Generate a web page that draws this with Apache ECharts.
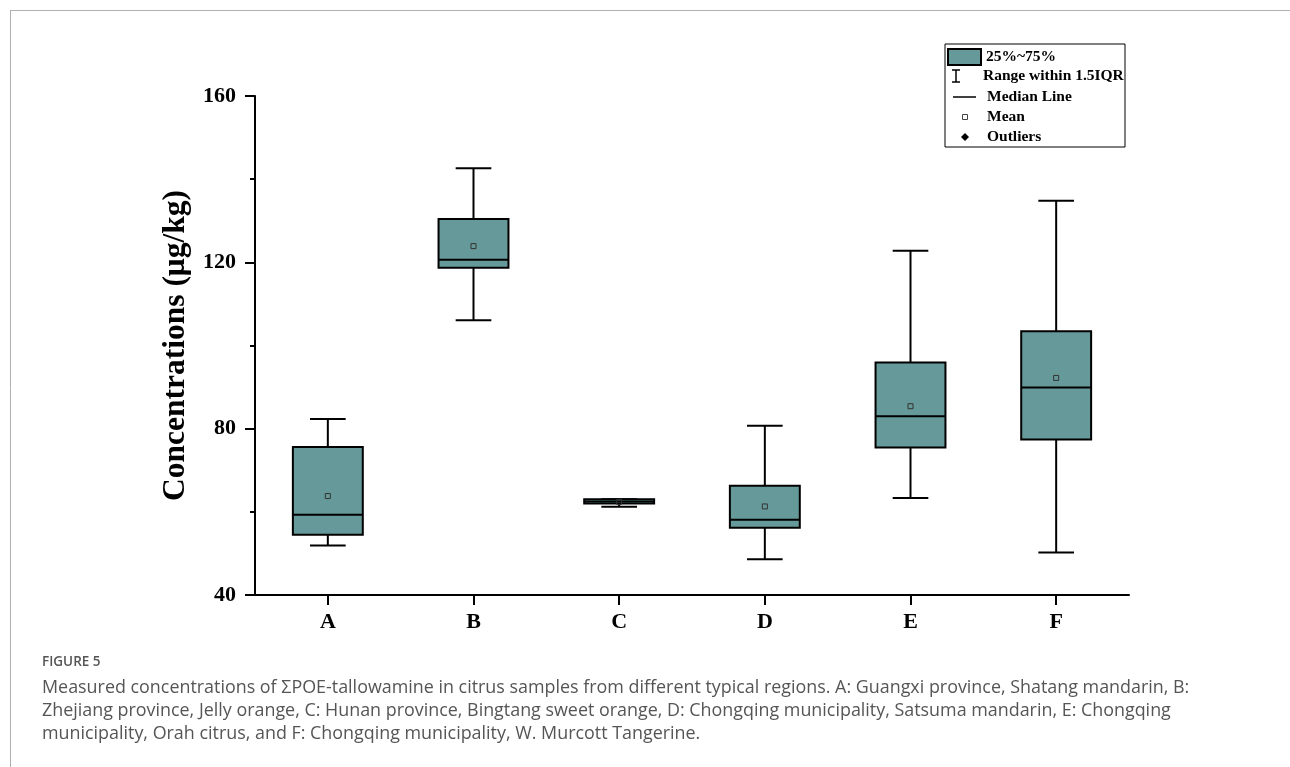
<!DOCTYPE html>
<html><head><meta charset="utf-8">
<script src="https://cdn.jsdelivr.net/npm/echarts@6/dist/echarts.min.js"></script>
<style>html,body{margin:0;padding:0;background:#fff;} #c{width:1290px;height:767px;}</style>
</head><body><div id="c"></div>
<script>
const categories = ['A','B','C','D','E','F'];
const whiskerLow  = [51.9, 106.1, 61.2, 48.6, 63.3, 50.2];
const q1          = [54.5, 118.7, 62.0, 56.2, 75.5, 77.4];
const median      = [59.3, 120.6, 62.5, 58.1, 83.0, 89.9];
const q3          = [75.6, 130.4, 63.0, 66.3, 95.9, 103.4];
const whiskerHigh = [82.3, 142.6, 63.0, 80.7, 122.8, 134.8];
const means       = [63.8, 123.9, 62.4, 61.3, 85.4, 92.2];
const yMin = 40, yMax = 160, yInterval = 40;
const legendLabels = ['25%~75%', 'Range within 1.5IQR', 'Median Line', 'Mean', 'Outliers'];
const captionTitle = 'FIGURE 5';
const captionLines = [
  'Measured concentrations of \u03A3POE-tallowamine in citrus samples from different typical regions. A: Guangxi province, Shatang mandarin, B:',
  'Zhejiang province, Jelly orange, C: Hunan province, Bingtang sweet orange, D: Chongqing municipality, Satsuma mandarin, E: Chongqing',
  'municipality, Orah citrus, and F: Chongqing municipality, W. Murcott Tangerine.'
];

const BOX = '#669999';
const SERIF = '"Liberation Serif","Times New Roman",serif';

const boxData = categories.map((c, i) => [i, whiskerLow[i], q1[i], median[i], q3[i], whiskerHigh[i], means[i]]);

function renderBox(params, api) {
  const i = api.value(0);
  const x = api.coord([i, api.value(3)])[0];
  const bw = api.size([1, 0])[0] * 0.48;
  const cw = bw * 0.51;
  const y = v => api.coord([i, v])[1];
  const yLo = y(api.value(1)), yQ1 = y(api.value(2)), yMed = y(api.value(3)),
        yQ3 = y(api.value(4)), yHi = y(api.value(5)), yMean = y(api.value(6));
  const ls = { stroke: '#000', lineWidth: 2 };
  return {
    type: 'group',
    children: [
      { type: 'line', shape: { x1: x, y1: yHi, x2: x, y2: yQ3 }, style: ls },
      { type: 'line', shape: { x1: x, y1: yQ1, x2: x, y2: yLo }, style: ls },
      { type: 'line', shape: { x1: x - cw / 2, y1: yHi, x2: x + cw / 2, y2: yHi }, style: ls },
      { type: 'line', shape: { x1: x - cw / 2, y1: yLo, x2: x + cw / 2, y2: yLo }, style: ls },
      { type: 'rect', shape: { x: x - bw / 2, y: yQ3, width: bw, height: yQ1 - yQ3 }, style: { fill: BOX, stroke: '#000', lineWidth: 2 } },
      { type: 'line', shape: { x1: x - bw / 2, y1: yMed, x2: x + bw / 2, y2: yMed }, style: ls },
      { type: 'rect', shape: { x: x - 2.5, y: yMean - 2.5, width: 5, height: 5 }, style: { fill: 'none', stroke: '#333', lineWidth: 1 } }
    ]
  };
}

// legend (decoration)
const LFONT = 'bold 15.5px ' + SERIF;
const legendGraphics = [
  { type: 'rect', shape: { x: 945, y: 44, width: 180, height: 103 }, style: { fill: '#fff', stroke: '#000', lineWidth: 1 } },
  { type: 'rect', shape: { x: 948, y: 49, width: 33, height: 16 }, style: { fill: BOX, stroke: '#000', lineWidth: 2 } },
  { type: 'text', x: 986, y: 57, style: { text: legendLabels[0], font: LFONT, fill: '#000', verticalAlign: 'middle' } },
  { type: 'line', shape: { x1: 956, y1: 70, x2: 956, y2: 82 }, style: { stroke: '#000', lineWidth: 1.5 } },
  { type: 'line', shape: { x1: 952, y1: 70, x2: 960, y2: 70 }, style: { stroke: '#000', lineWidth: 1.5 } },
  { type: 'line', shape: { x1: 952, y1: 82, x2: 960, y2: 82 }, style: { stroke: '#000', lineWidth: 1.5 } },
  { type: 'text', x: 983, y: 76, style: { text: legendLabels[1], font: LFONT, fill: '#000', verticalAlign: 'middle' } },
  { type: 'line', shape: { x1: 953, y1: 97, x2: 976, y2: 97 }, style: { stroke: '#000', lineWidth: 1.5 } },
  { type: 'text', x: 987, y: 97, style: { text: legendLabels[2], font: LFONT, fill: '#000', verticalAlign: 'middle' } },
  { type: 'rect', shape: { x: 962.5, y: 114.5, width: 5, height: 5 }, style: { fill: 'none', stroke: '#444', lineWidth: 1 } },
  { type: 'text', x: 987, y: 117, style: { text: legendLabels[3], font: LFONT, fill: '#000', verticalAlign: 'middle' } },
  { type: 'polygon', shape: { points: [[965, 133], [969, 137], [965, 141], [961, 137]] }, style: { fill: '#000' } },
  { type: 'text', x: 987, y: 137, style: { text: legendLabels[4], font: LFONT, fill: '#000', verticalAlign: 'middle' } }
];

const frameGraphics = [
  { type: 'line', shape: { x1: 10, y1: 10.5, x2: 1290, y2: 10.5 }, style: { stroke: '#b0b0b0', lineWidth: 1 } },
  { type: 'line', shape: { x1: 10.5, y1: 10, x2: 10.5, y2: 767 }, style: { stroke: '#b0b0b0', lineWidth: 1 } }
];

const captionGraphics = [
  { type: 'text', x: 42, y: 662, style: { text: captionTitle, font: '600 13.5px "Open Sans", sans-serif', fill: '#555', verticalAlign: 'middle' } }
].concat(captionLines.map((t, k) => ({
  type: 'text', x: 42, y: 688 + k * 23, style: { text: t, font: '17.9px "Open Sans", sans-serif', fill: '#555', verticalAlign: 'middle' }
})));

const chart = echarts.init(document.getElementById('c'), null, { renderer: 'canvas' });
chart.setOption({
  backgroundColor: '#fff',
  animation: false,
  grid: { left: 255, right: 161, top: 96, bottom: 172 },
  xAxis: {
    type: 'category',
    data: categories,
    boundaryGap: true,
    axisLine: { show: true, lineStyle: { color: '#000', width: 2 } },
    axisTick: { show: true, alignWithLabel: true, inside: false, length: 10, lineStyle: { color: '#000', width: 2 } },
    axisLabel: { color: '#000', fontFamily: SERIF, fontWeight: 'bold', fontSize: 22, margin: 16 },
    splitLine: { show: false }
  },
  yAxis: {
    type: 'value',
    min: yMin, max: yMax, interval: yInterval,
    name: 'Concentrations (\u03BCg/kg)',
    nameLocation: 'middle',
    nameGap: 58,
    nameTextStyle: { color: '#000', fontFamily: SERIF, fontWeight: 'bold', fontSize: 31.5 },
    axisLine: { show: true, lineStyle: { color: '#000', width: 2 } },
    axisTick: { show: true, inside: false, length: 10, lineStyle: { color: '#000', width: 2 } },
    minorTick: { show: true, splitNumber: 2, length: 5, lineStyle: { color: '#000', width: 2 } },
    axisLabel: { color: '#000', fontFamily: SERIF, fontWeight: 'bold', fontSize: 22, margin: 19 },
    splitLine: { show: false }
  },
  series: [{
    type: 'custom',
    renderItem: renderBox,
    encode: { x: 0, y: [1, 2, 3, 4, 5, 6] },
    data: boxData,
    z: 3
  }],
  graphic: frameGraphics.concat(legendGraphics, captionGraphics)
});
</script>
</body></html>
